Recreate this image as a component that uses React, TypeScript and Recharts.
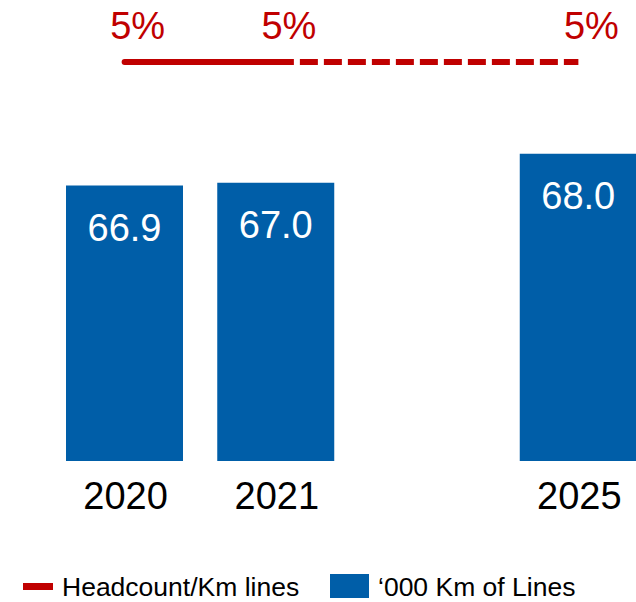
import React from "react";
import { ComposedChart, Bar, Line, XAxis, YAxis, Legend, LabelList } from "recharts";

// Years shown on the axis; the empty slot leaves a gap before 2025.
const years = ["2020", "2021", "", "2025"];
// '000 Km of lines
const kmLines = [66.9, 67.0, null, 68.0];
// Headcount per Km of lines (%), actual then target
const headcountActual = [5, 5, null, null];
const headcountTarget = [null, 5, null, 5];

const legendLine = "Headcount/Km lines";
const legendBar = "\u2018000 Km of Lines";

const RED = "#C00000";
const BLUE = "#005EA8";
const FONT = "'Liberation Sans', Arial, sans-serif";

const data = years.map((year, i) => ({
  year,
  km: kmLines[i],
  hcActual: headcountActual[i],
  hcTarget: headcountTarget[i],
}));

const YearTick = (props: any) => {
  const { x, y, payload } = props;
  if (!payload.value) return null;
  return (
    <text x={x + 1} y={y + 48} textAnchor="middle" fill="#000" fontSize={38} fontFamily={FONT}>
      {payload.value}
    </text>
  );
};

const BarValue = (props: any) => {
  const { x, y, width, value } = props;
  if (value == null) return null;
  return (
    <text x={x + width / 2} y={y + 55} textAnchor="middle" fill="#fff" fontSize={38} fontFamily={FONT}>
      {Number(value).toFixed(1)}
    </text>
  );
};

const makePctLabel = (skip: (number | null)[]) => (props: any) => {
  const { x, y, value, index } = props;
  if (value == null || skip[index] != null) return null;
  return (
    <text x={x + 13} y={y - 23} textAnchor="middle" fill={RED} fontSize={38} fontFamily={FONT}>
      {`${value}%`}
    </text>
  );
};

const noSkip = years.map(() => null);

const LegendContent = () => (
  <div style={{ position: "relative", width: 636, height: 30, fontFamily: FONT, fontSize: 26.5, color: "#000" }}>
    <div style={{ position: "absolute", left: 23, top: 11, width: 30, height: 7, background: RED }} />
    <span style={{ position: "absolute", left: 62, top: 0, lineHeight: "30px", whiteSpace: "nowrap" }}>{legendLine}</span>
    <div style={{ position: "absolute", left: 330, top: 2, width: 39, height: 24, background: BLUE }} />
    <span style={{ position: "absolute", left: 378, top: 0, lineHeight: "30px", whiteSpace: "nowrap" }}>{legendBar}</span>
  </div>
);

export default function App() {
  return (
    <div style={{ position: "absolute", left: 0, top: 0, width: 636, height: 602, overflow: "hidden", background: "#fff" }}>
      <ComposedChart width={660} height={602} data={data} margin={{ top: 0, right: 6, bottom: 0, left: 49 }}>
        <XAxis
          dataKey="year"
          axisLine={false}
          tickLine={false}
          tickSize={0}
          tickMargin={0}
          height={111}
          interval={0}
          tick={<YearTick />}
        />
        <YAxis yAxisId="km" hide domain={[57.4, 73.3]} allowDataOverflow />
        <YAxis yAxisId="hc" hide domain={[0, 5.777]} allowDataOverflow />
        <Legend
          verticalAlign="bottom"
          content={<LegendContent />}
          wrapperStyle={{ left: 0, bottom: 0, width: 636, height: 30 }}
        />
        <Bar yAxisId="km" dataKey="km" name={legendBar} fill={BLUE} barSize={117} isAnimationActive={false}>
          <LabelList dataKey="km" content={<BarValue />} />
        </Bar>
        <Line
          yAxisId="hc"
          dataKey="hcActual"
          name={legendLine}
          stroke={RED}
          strokeWidth={6}
          strokeLinecap="round"
          dot={false}
          activeDot={false}
          isAnimationActive={false}
        >
          <LabelList dataKey="hcActual" content={makePctLabel(noSkip)} />
        </Line>
        <Line
          yAxisId="hc"
          dataKey="hcTarget"
          stroke={RED}
          strokeWidth={6}
          strokeDasharray="18 6"
          connectNulls
          dot={false}
          activeDot={false}
          legendType="none"
          isAnimationActive={false}
        >
          <LabelList dataKey="hcTarget" content={makePctLabel(headcountActual)} />
        </Line>
      </ComposedChart>
    </div>
  );
}
